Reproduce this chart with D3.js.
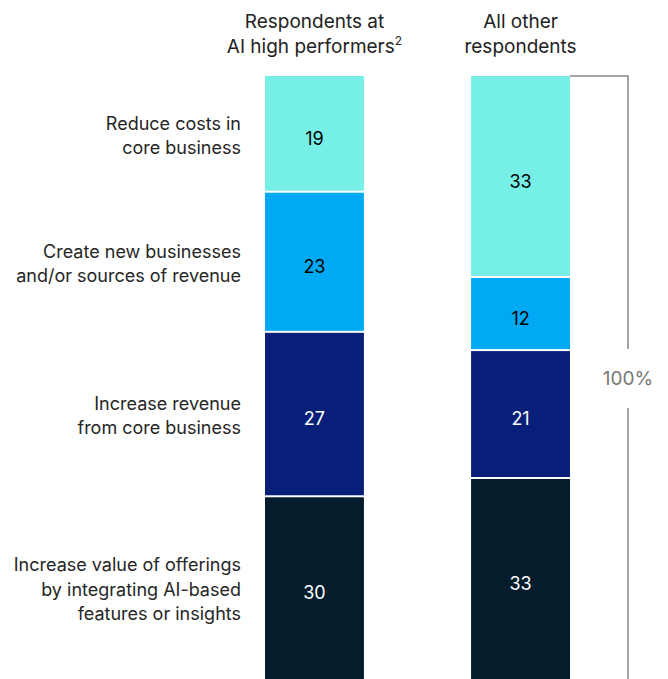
<!DOCTYPE html>
<meta charset="utf-8">
<style>
  body { margin: 0; background: #fff; }
  svg { display: block; font-family: Inter, "Liberation Sans", Arial, sans-serif; }
</style>
<svg width="668" height="679"></svg>
<script src="https://cdn.jsdelivr.net/npm/d3@7"></script>
<script>

// data, bottom segment first
var categories = [
  ["Increase value of offerings", "by integrating AI-based", "features or insights"],
  ["Increase revenue", "from core business"],
  ["Create new businesses", "and/or sources of revenue"],
  ["Reduce costs in", "core business"]
];
var groups = [["Respondents at", "AI high performers"], ["All other", "respondents"]];
var highPerformers = [30, 27, 23, 19];
var allOthers = [33, 21, 12, 33];
var colors = ["#051c2c", "#071f78", "#00a9f4", "#76f0e6"];
var textColors = ["#fff", "#fff", "#000", "#000"];

var svg = d3.select("svg"),
    width = +svg.attr("width"),
    height = +svg.attr("height");

var plotTop = 76, plotBottom = 679;

var x = d3.scaleBand()
    .domain([0, 1])
    .range([265, 570])
    .paddingInner(0.52);

var y = d3.scaleLinear()
    .domain([0, 99])
    .range([plotBottom, plotTop]);

var series = [highPerformers, allOthers];

series.forEach(function(vals, gi) {
  var stack = [];
  var acc = 0;
  vals.forEach(function(v, i) {
    stack.push({ y0: acc, y1: acc + v, v: v, i: i });
    acc += v;
  });

  var g = svg.append("g");

  g.selectAll("rect")
    .data(stack)
    .enter().append("rect")
      .attr("x", x(gi))
      .attr("width", x.bandwidth())
      .attr("y", function(d) { return y(d.y1) + (d.i < 3 ? 1 : 0); })
      .attr("height", function(d) { return y(d.y0) - y(d.y1) - (d.i < 3 ? 1 : 0) - (d.i > 0 ? 1 : 0); })
      .attr("fill", function(d) { return colors[d.i]; });

  g.selectAll("text.val")
    .data(stack)
    .enter().append("text")
      .attr("class", "val")
      .attr("x", x(gi) + x.bandwidth() / 2)
      .attr("y", function(d) { return (y(d.y0) + y(d.y1)) / 2 + 11; })
      .attr("text-anchor", "middle")
      .attr("font-size", 18)
      .attr("fill", function(d) { return textColors[d.i]; })
      .text(function(d) { return d.v; });

  // header
  var h = svg.append("text")
      .attr("text-anchor", "middle")
      .attr("font-size", 19)
      .attr("fill", "#222");
  groups[gi].forEach(function(line, li) {
    h.append("tspan")
        .attr("x", x(gi) + x.bandwidth() / 2)
        .attr("y", 28 + li * 25)
        .text(line);
    if (gi === 0 && li === 1) {
      h.append("tspan").attr("font-size", 12).attr("dy", -8).text("2");
    }
  });

  // category labels follow the left bar
  if (gi === 0) {
    svg.selectAll("text.cat")
      .data(stack)
      .enter().append("text")
        .attr("class", "cat")
        .attr("text-anchor", "end")
        .attr("font-size", 18)
        .attr("fill", "#262626")
        .each(function(d) {
          var lines = categories[d.i];
          var cy = (y(d.y0) + y(d.y1)) / 2;
          var t = d3.select(this);
          lines.forEach(function(line, li) {
            t.append("tspan")
              .attr("x", 241)
              .attr("y", cy + 8 + (li - (lines.length - 1) / 2) * 24.5)
              .text(line);
          });
        });
  }
});

// 100% bracket
var bx = 628, labelY = 378;
svg.append("path")
    .attr("d", "M" + (x(1) + x.bandwidth()) + "," + y(99) + "H" + bx + "V" + (labelY - 29))
    .attr("fill", "none")
    .attr("stroke", "#888")
    .attr("stroke-width", 1.5);
svg.append("line")
    .attr("x1", bx).attr("x2", bx)
    .attr("y1", labelY + 30).attr("y2", y(0))
    .attr("stroke", "#888")
    .attr("stroke-width", 1.5);
svg.append("text")
    .attr("x", bx)
    .attr("y", labelY + 7)
    .attr("text-anchor", "middle")
    .attr("font-size", 19)
    .attr("fill", "#777")
    .text("100%");

</script>
